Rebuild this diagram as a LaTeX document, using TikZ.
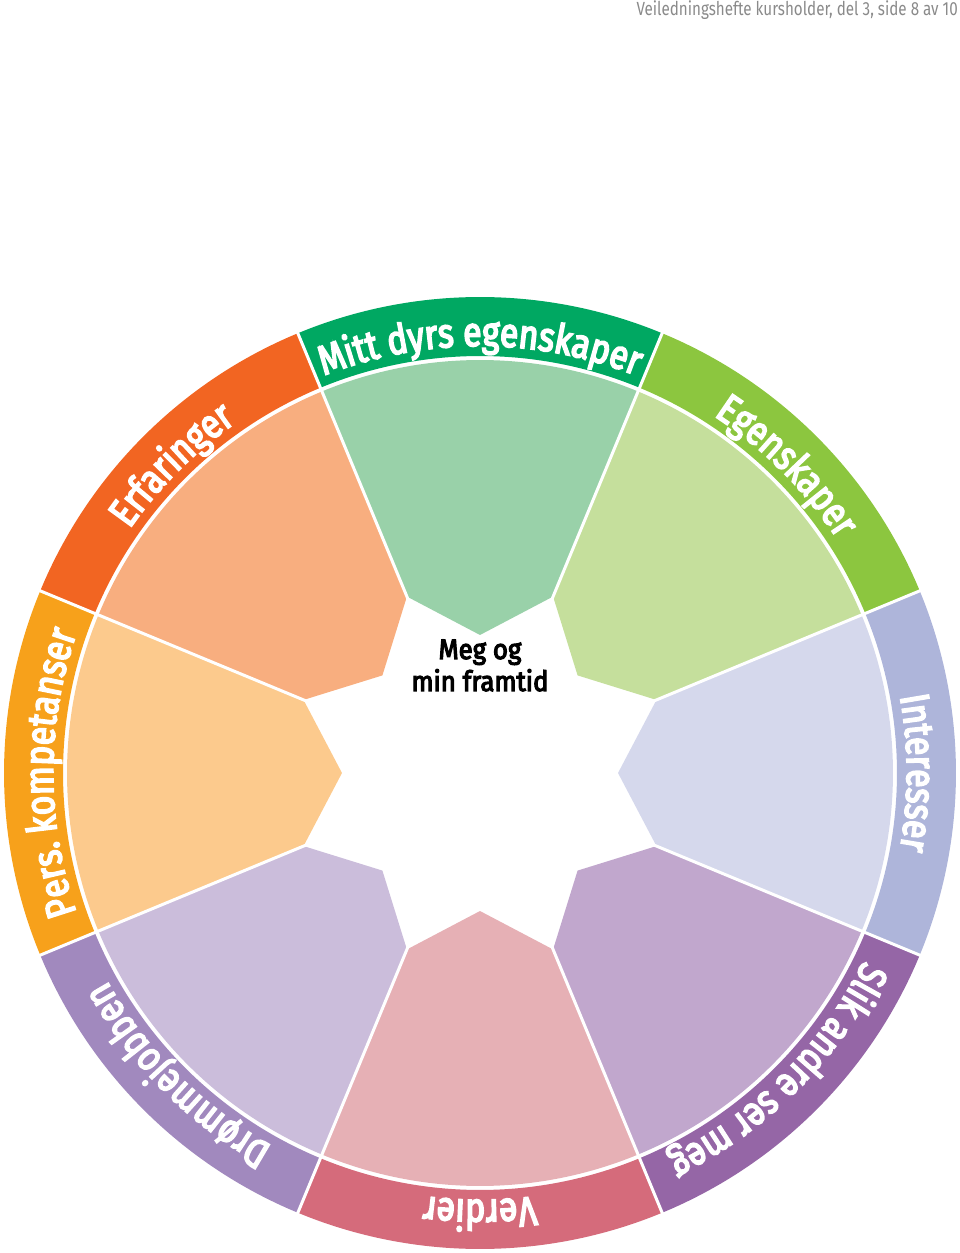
\documentclass[tikz,border=0pt]{standalone}
\usepackage{fontspec}
\setmainfont{Fira Sans}
\newfontfamily\ringfont{Fira Sans}[FakeBold=4, FakeStretch=0.82]
\newfontfamily\centrefont{Fira Sans}[FakeBold=4, FakeStretch=0.92]
\newfontfamily\headfont{Fira Sans}
\usetikzlibrary{decorations.text}
\definecolor{ringA}{HTML}{00A862}\definecolor{innA}{HTML}{99D1A9}
\definecolor{ringB}{HTML}{8CC63F}\definecolor{innB}{HTML}{C5DF9C}
\definecolor{ringC}{HTML}{AEB5DA}\definecolor{innC}{HTML}{D5D8EC}
\definecolor{ringD}{HTML}{9566A6}\definecolor{innD}{HTML}{C1A7CD}
\definecolor{ringE}{HTML}{D56B7B}\definecolor{innE}{HTML}{E6B0B5}
\definecolor{ringF}{HTML}{A189BE}\definecolor{innF}{HTML}{CBBDDB}
\definecolor{ringG}{HTML}{F7A11B}\definecolor{innG}{HTML}{FCCA8D}
\definecolor{ringH}{HTML}{F26522}\definecolor{innH}{HTML}{F8AE7F}
\definecolor{headgray}{HTML}{8A8A8A}
\tikzset{
  ringtext/.style={decorate, decoration={text along path, text align=center, text color=white,
     text={|\ringfont\fontsize{41}{41}\selectfont|#1}}},
  sepline/.style={white, line width=3pt}
}
\begin{document}
\begin{tikzpicture}[x=1pt,y=1pt]
\useasboundingbox (-480,-480) rectangle (480,773);
\foreach \a/\rcol/\icol in {90/ringA/innA, 45/ringB/innB, 0/ringC/innC, -45/ringD/innD, -90/ringE/innE, -135/ringF/innF, 180/ringG/innG, 135/ringH/innH} {
  \pgfmathsetmacro\sa{\a+22.5}
  \pgfmathsetmacro\ea{\a-22.5}
  \fill[fill=\rcol] (\sa:476) arc[start angle=\sa, end angle=\ea, radius=476]
     -- (\ea:417) arc[start angle=\ea, end angle=\sa, radius=417] -- cycle;
  \fill[fill=\icol] (\sa:191) -- (\a:138) -- (\ea:191) -- (\ea:413)
     arc[start angle=\ea, end angle=\sa, radius=413] -- cycle;
}
\foreach \b in {22.5,67.5,112.5,157.5,202.5,247.5,292.5,337.5}
  \draw[sepline] (\b:170) -- (\b:480);

\path[ringtext={Mitt dyrs egenskaper}] (112.5:427) arc[start angle=112.5, end angle=67.5, radius=427];
\path[ringtext={Egenskaper}] (67.5:427) arc[start angle=67.5, end angle=22.5, radius=427];
\path[ringtext={Interesser}] (22.5:427) arc[start angle=22.5, end angle=-22.5, radius=427];
\path[ringtext={Slik andre ser meg}] (-22.5:427) arc[start angle=-22.5, end angle=-67.5, radius=427];
\path[ringtext={Verdier}] (-67.5:427) arc[start angle=-67.5, end angle=-112.5, radius=427];
\path[ringtext={Drømmejobben}] (-112.5:427) arc[start angle=-112.5, end angle=-157.5, radius=427];
\path[ringtext={Pers. kompetanser}] (-157.5:427) arc[start angle=-157.5, end angle=-202.5, radius=427];
\path[ringtext={Erfaringer}] (157.5:427) arc[start angle=157.5, end angle=112.5, radius=427];

\node[align=center, anchor=base, inner sep=0, font=\centrefont\fontsize{28}{32}\selectfont] (centre) at (0,82) {Meg og\\min framtid};
\node[anchor=base east, inner sep=0, text=headgray, font=\headfont\fontsize{19}{19}\selectfont] (header) at (478,757)
  {\scalebox{0.8}[1]{Veiledningshefte kursholder, del 3, side 8 av 10}};
\end{tikzpicture}
\end{document}
